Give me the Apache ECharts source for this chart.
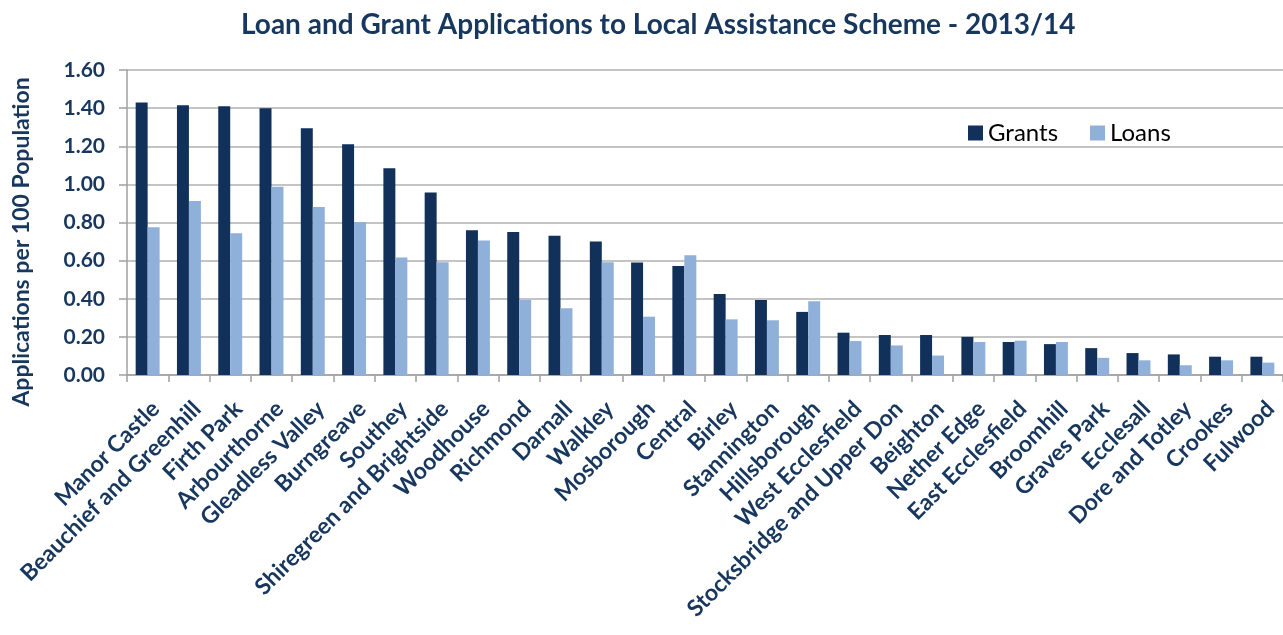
<!DOCTYPE html>
<html>
<head>
<meta charset="utf-8">
<script src="https://cdn.jsdelivr.net/npm/echarts@6/dist/echarts.min.js"></script>
<style>
  html, body { margin: 0; padding: 0; background: #ffffff; }
  #chart { width: 1283px; height: 635px; }
</style>
</head>
<body>
<div id="chart"></div>
<script>
// Wards of Sheffield, ordered by grant application rate
const wards = [
  'Manor Castle', 'Beauchief and Greenhill', 'Firth Park', 'Arbourthorne',
  'Gleadless Valley', 'Burngreave', 'Southey', 'Shiregreen and Brightside',
  'Woodhouse', 'Richmond', 'Darnall', 'Walkley', 'Mosborough', 'Central',
  'Birley', 'Stannington', 'Hillsborough', 'West Ecclesfield',
  'Stocksbridge and Upper Don', 'Beighton', 'Nether Edge', 'East Ecclesfield',
  'Broomhill', 'Graves Park', 'Ecclesall', 'Dore and Totley', 'Crookes', 'Fulwood'
];

// Applications per 100 population
const grants = [
  1.43, 1.415, 1.41, 1.40, 1.295, 1.21, 1.085, 0.958,
  0.76, 0.75, 0.73, 0.70, 0.59, 0.572,
  0.425, 0.393, 0.331, 0.222,
  0.21, 0.21, 0.20, 0.173,
  0.162, 0.141, 0.115, 0.108, 0.096, 0.096
];
const loans = [
  0.775, 0.913, 0.743, 0.988, 0.881, 0.803, 0.616, 0.591,
  0.705, 0.393, 0.35, 0.591, 0.306, 0.628,
  0.292, 0.287, 0.387, 0.178,
  0.155, 0.102, 0.173, 0.18,
  0.173, 0.09, 0.077, 0.051, 0.077, 0.065
];

const yTicks = { min: 0, max: 1.6, step: 0.2 };

const navy = '#17375E';
const font = 'Lato';

const chart = echarts.init(document.getElementById('chart'), null, { renderer: 'canvas' });

chart.setOption({
  animation: false,
  backgroundColor: '#ffffff',
  title: {
    text: 'Loan and Grant Applications to Local Assistance Scheme - 2013/14',
    left: 236,
    top: 6,
    textStyle: { fontFamily: font, fontSize: 28, fontWeight: 'bold', color: navy }
  },
  legend: {
    left: 963,
    top: 116,
    icon: 'rect',
    itemWidth: 15,
    itemHeight: 15,
    itemGap: 32,
    textStyle: { fontFamily: font, fontSize: 24, color: '#000000' },
    data: ['Grants', 'Loans']
  },
  grid: {
    left: 127,
    top: 70,
    width: 1165,
    height: 305,
    containLabel: false
  },
  xAxis: {
    type: 'category',
    data: wards,
    axisLine: { lineStyle: { color: '#A0A0A0', width: 1.5 } },
    axisTick: { show: true, length: 7, lineStyle: { color: '#A0A0A0', width: 1.5 } },
    axisLabel: {
      interval: 0,
      rotate: 45,
      margin: 22,
      verticalAlign: 'top',
      fontFamily: font,
      fontSize: 23,
      fontWeight: 'bold',
      color: navy
    }
  },
  yAxis: {
    type: 'value',
    min: yTicks.min,
    max: yTicks.max,
    interval: yTicks.step,
    axisLine: { show: true, lineStyle: { color: '#A0A0A0', width: 1.5 } },
    axisTick: { show: true, length: 8, lineStyle: { color: '#A0A0A0', width: 1.5 } },
    splitLine: { show: true, lineStyle: { color: '#B0B0B0', width: 1.5 } },
    axisLabel: {
      margin: 22,
      fontFamily: font,
      fontSize: 21,
      fontWeight: 'bold',
      color: navy,
      formatter: v => v.toFixed(2)
    }
  },
  graphic: [{
    type: 'text',
    x: 22,
    y: 242,
    rotation: Math.PI / 2,
    style: {
      text: 'Applications per 100 Population',
      fontFamily: font,
      fontSize: 23,
      fontWeight: 'bold',
      fill: navy,
      align: 'center',
      verticalAlign: 'middle'
    }
  }],
  series: [
    {
      name: 'Grants',
      type: 'bar',
      data: grants,
      barGap: '0%',
      barCategoryGap: '42%',
      itemStyle: { color: '#11315A' }
    },
    {
      name: 'Loans',
      type: 'bar',
      data: loans,
      itemStyle: { color: '#8FB0D8' }
    }
  ]
});
</script>
</body>
</html>
